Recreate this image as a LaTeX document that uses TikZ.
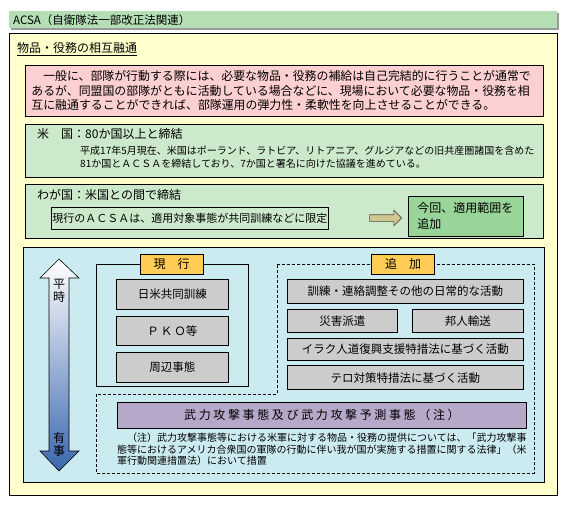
\documentclass[tikz,border=0pt]{standalone}
\usepackage{fontspec}
\setmainfont{Noto Sans CJK JP}
\newfontfamily\widejp[LetterSpace=22]{Noto Sans CJK JP}
\usetikzlibrary{positioning,shapes.arrows}

\definecolor{titlegreen}{HTML}{B4DEB4}
\definecolor{shadowgray}{HTML}{9A9A9A}
\definecolor{paleyellow}{HTML}{FFFFCC}
\definecolor{palepink}{HTML}{FCCFD0}
\definecolor{palegreen}{HTML}{CCEACB}
\definecolor{midgreen}{HTML}{99D498}
\definecolor{paleblue}{HTML}{CBEBF1}
\definecolor{taborange}{HTML}{FFCC55}
\definecolor{itemgray}{HTML}{CCCCCC}
\definecolor{lilac}{HTML}{B6A8C8}
\definecolor{khaki}{HTML}{D2C690}
\definecolor{arrowblue}{HTML}{3A66AE}

\tikzset{
  panel/.style={draw, line width=0.8pt},
  textbox/.style={draw, line width=0.8pt, inner sep=0pt, anchor=north west},
  itembox/.style={draw, line width=0.8pt, fill=itemgray, inner sep=0pt,
    font=\fontsize{11.5}{13}\selectfont},
  tab/.style={draw, line width=0.8pt, fill=taborange, inner sep=0pt,
    minimum width=63pt, minimum height=20pt, font=\fontsize{12}{14}\selectfont},
}

\begin{document}
\begin{tikzpicture}[x=1pt,y=-1pt]
  \useasboundingbox (0,0) rectangle (569,505);

  % title bar
  \fill[shadowgray] (11,13) rectangle (559,30);
  \node[fill=titlegreen, anchor=north west, inner xsep=4pt, inner ysep=0pt,
    minimum height=17pt, text width=540pt, align=left,
    font=\fontsize{11.5}{13}\selectfont] (title) at (9,11)
    {ACSA（自衛隊法一部改正法関連）};

  \filldraw[panel, fill=paleyellow] (9,33) rectangle (557,495);
  \node[anchor=west, inner sep=0pt, font=\fontsize{12}{14}\selectfont] (mutual) at (17,49)
    {\underline{物品・役務の相互融通}};

  \node[textbox, fill=palepink, minimum width=518pt, minimum height=51pt,
    inner xsep=6pt, text width=506pt, align=left,
    font=\fontsize{11.9}{14.5}\selectfont] (general) at (25,65)
    {　一般に、部隊が行動する際には、必要な物品・役務の補給は自己完結的に行うことが通常で\\
     あるが、同盟国の部隊がともに活動している場合などに、現場において必要な物品・役務を相\\
     互に融通することができれば、部隊運用の弾力性・柔軟性を向上させることができる。};

  % United States
  \filldraw[panel, fill=palegreen] (25,124) rectangle (543,177);
  \node[anchor=west, inner sep=0pt, font=\fontsize{12}{14}\selectfont] (usa) at (37,134)
    {米　国：80か国以上と締結};
  \node[anchor=north west, inner sep=0pt, align=left,
    font=\fontsize{10}{13}\selectfont] (usadetail) at (80,146)
    {平成17年5月現在、米国はポーランド、ラトビア、リトアニア、グルジアなどの旧共産圏諸国を含めた\\
     81か国とＡＣＳＡを締結しており、7か国と署名に向けた協議を進めている。};

  % Japan
  \filldraw[panel, fill=palegreen] (25,184) rectangle (543,238);
  \node[anchor=west, inner sep=0pt, font=\fontsize{12}{14}\selectfont] (japan) at (37,195)
    {わが国：米国との間で締結};
  \node[textbox, fill=palegreen, minimum width=277pt, minimum height=22pt,
    font=\fontsize{11}{13}\selectfont] (current) at (51,207)
    {現行のＡＣＳＡは、適用対象事態が共同訓練などに限定};
  \node[textbox, fill=midgreen, minimum width=115pt, minimum height=40pt,
    inner xsep=9pt, text width=97pt, align=left,
    font=\fontsize{12}{16}\selectfont] (extend) at (408,196)
    {今回、適用範囲を\\追加};
  \node[single arrow, draw=black!70, line width=0.6pt, fill=khaki, inner sep=3pt,
    minimum height=32pt, single arrow head extend=4.5pt] (toward) at (384,218) {};

  % scope of application
  \filldraw[panel, fill=paleblue] (23,247) rectangle (544,482);

  \shade[top color=white, bottom color=arrowblue, draw, line width=0.6pt]
    (59,259) -- (79,278) -- (69,278) -- (69,451) -- (79,451) -- (59,471)
    -- (40,451) -- (49,451) -- (49,278) -- (40,278) -- cycle;
  \node[align=center, inner sep=0pt, font=\fontsize{12}{13}\selectfont] (peace) at (59,291) {平\\時};
  \node[align=center, inner sep=0pt, font=\fontsize{12}{13}\selectfont] (war) at (59,444) {有\\事};

  \draw[line width=0.8pt, dash pattern=on 3pt off 2pt]
    (277,264) -- (534,264) -- (534,473) -- (96,473) -- (96,394) -- (277,394) -- cycle;
  \draw[panel] (96,264) rectangle (248,386);

  \node[tab] (nowtab) at (171.5,264) {現　行};
  \node[tab] (addtab) at (403,264) {追　加};

  % current
  \node[itembox, anchor=north west, minimum width=112pt, minimum height=30pt] (drill) at (116,279) {日米共同訓練};
  \node[itembox, minimum width=112pt, minimum height=29pt, below=6pt of drill] (pko) {Ｐ\,Ｋ\,Ｏ等};
  \node[itembox, minimum width=112pt, minimum height=30pt, below=6pt of pko] (contingency) {周辺事態};

  % added
  \node[itembox, anchor=north west, minimum width=236pt, minimum height=24pt] (daily) at (287,279)
    {訓練・連絡調整その他の日常的な活動};
  \node[itembox, minimum width=110pt, minimum height=23pt,
    below=5pt of daily.south west, anchor=north west] (disaster) {災害派遣};
  \node[itembox, minimum width=111pt, minimum height=23pt,
    below=5pt of daily.south east, anchor=north east] (evac) {邦人輸送};
  \node[itembox, minimum width=236pt, minimum height=22pt,
    below=5pt of disaster.south west, anchor=north west] (iraq) {イラク人道復興支援特措法に基づく活動};
  \node[itembox, minimum width=236pt, minimum height=24pt, below=5pt of iraq] (terror) {テロ対策特措法に基づく活動};

  \node[textbox, fill=lilac, minimum width=409pt, minimum height=26pt,
    font=\widejp\fontsize{12}{14}\selectfont] (attack) at (117,402)
    {武力攻撃事態及び武力攻撃予測事態（注）};
  \node[anchor=north west, inner sep=0pt, align=left,
    font=\fontsize{10}{11.5}\selectfont] (note) at (117,433)
    {　（注）武力攻撃事態等における米軍に対する物品・役務の提供については、「武力攻撃事\\
     態等におけるアメリカ合衆国の軍隊の行動に伴い我が国が実施する措置に関する法律」（米\\
     軍行動関連措置法）において措置};
\end{tikzpicture}
\end{document}
